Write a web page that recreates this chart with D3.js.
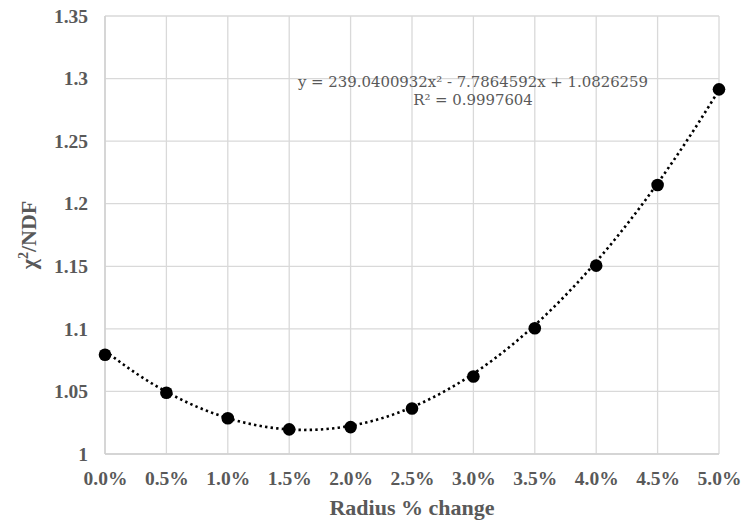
<!DOCTYPE html>
<html>
<head>
<meta charset="utf-8">
<script src="https://cdn.jsdelivr.net/npm/d3@7"></script>
<style>
  html, body { margin: 0; padding: 0; background: #fff; }
  svg { display: block; }
</style>
</head>
<body>
<svg id="chart" width="754" height="522"></svg>
<script>
// Radius change (fraction) and resulting chi-square per degree of freedom
const radiusChange = [0.000, 0.005, 0.010, 0.015, 0.020, 0.025, 0.030, 0.035, 0.040, 0.045, 0.050];
const chi2NDF      = [1.0793, 1.0490, 1.0286, 1.0197, 1.0215, 1.0363, 1.0619, 1.1005, 1.1505, 1.2149, 1.2914];

// Quadratic trendline coefficients: a*x^2 + b*x + c
const trendCoef = [239.0400932, -7.7864592, 1.0826259];
const trendLabels = ["y = 239.0400932x\u00B2 - 7.7864592x + 1.0826259", "R\u00B2 = 0.9997604"];

const xTicks = [0, 0.005, 0.01, 0.015, 0.02, 0.025, 0.03, 0.035, 0.04, 0.045, 0.05];
const yTicks = [1, 1.05, 1.1, 1.15, 1.2, 1.25, 1.3, 1.35];

const svg = d3.select("#chart");
const margin = { left: 105, top: 16, right: 754 - 719, bottom: 522 - 454 };
const W = 754 - margin.left - margin.right;
const H = 522 - margin.top - margin.bottom;

const x = d3.scaleLinear().domain([0, 0.05]).range([0, W]);
const y = d3.scaleLinear().domain([1, 1.35]).range([H, 0]);

const g = svg.append("g").attr("transform", `translate(${margin.left},${margin.top})`);

const gridColor = "#d9d9d9";
const textColor = "#595959";
const serifBold = "'Liberation Serif', 'Times New Roman', serif";

// Grid lines
g.append("g").selectAll("line.h").data(yTicks).join("line")
  .attr("x1", 0).attr("x2", W)
  .attr("y1", d => y(d)).attr("y2", d => y(d))
  .attr("stroke", gridColor).attr("stroke-width", 1.3);
g.append("g").selectAll("line.v").data(xTicks).join("line")
  .attr("x1", d => x(d)).attr("x2", d => x(d))
  .attr("y1", 0).attr("y2", H)
  .attr("stroke", gridColor).attr("stroke-width", 1.3);

// Axes (labels only, lines come from the grid)
const yAxis = g.append("g")
  .call(d3.axisLeft(y).tickValues(yTicks).tickSize(0).tickPadding(17).tickFormat(d3.format("")));
yAxis.select(".domain").remove();
yAxis.selectAll("text")
  .attr("fill", textColor).style("font-family", serifBold)
  .style("font-weight", "bold").style("font-size", "19.5px");

const xAxis = g.append("g").attr("transform", `translate(0,${H})`)
  .call(d3.axisBottom(x).tickValues(xTicks).tickSize(0).tickPadding(17).tickFormat(d3.format(".1%")));
xAxis.select(".domain").remove();
xAxis.selectAll("text")
  .attr("fill", textColor).style("font-family", serifBold)
  .style("font-weight", "bold").style("font-size", "19.5px");

// Axis lines in light grey
g.append("line").attr("x1", 0).attr("x2", W).attr("y1", H).attr("y2", H)
  .attr("stroke", "#d0d0d0").attr("stroke-width", 1.5);
g.append("line").attr("x1", 0).attr("x2", 0).attr("y1", 0).attr("y2", H)
  .attr("stroke", "#d0d0d0").attr("stroke-width", 1.5);

// Dotted quadratic trendline
const fit = v => trendCoef[0] * v * v + trendCoef[1] * v + trendCoef[2];
const trendPts = d3.range(0, 101).map(i => {
  const v = 0.05 * i / 100;
  return [v, fit(v)];
});
g.append("path")
  .datum(trendPts)
  .attr("fill", "none")
  .attr("stroke", "#000")
  .attr("stroke-width", 2.6)
  .attr("stroke-dasharray", "2.4,3.2")
  .attr("d", d3.line().x(d => x(d[0])).y(d => y(d[1])).curve(d3.curveBasis));

// Data markers
g.append("g").selectAll("circle").data(radiusChange).join("circle")
  .attr("cx", d => x(d))
  .attr("cy", (d, i) => y(chi2NDF[i]))
  .attr("r", 6.3)
  .attr("fill", "#000");

// Trendline equation label
const eq = svg.append("text")
  .attr("x", 473).attr("y", 87)
  .attr("text-anchor", "middle")
  .attr("fill", textColor)
  .style("font-family", "'DejaVu Serif', 'Liberation Serif', serif")
  .style("font-size", "14.9px");
eq.append("tspan").attr("x", 473).attr("dy", 0).text(trendLabels[0]);
eq.append("tspan").attr("x", 473).attr("dy", 18).text(trendLabels[1]);

// Axis titles
svg.append("text")
  .attr("x", margin.left + W / 2).attr("y", 515)
  .attr("text-anchor", "middle")
  .attr("fill", textColor)
  .style("font-family", serifBold).style("font-weight", "bold").style("font-size", "22px")
  .text("Radius % change");

const yt = svg.append("text")
  .attr("transform", `translate(36,${margin.top + H / 2}) rotate(-90)`)
  .attr("text-anchor", "middle")
  .attr("fill", textColor)
  .style("font-family", serifBold).style("font-weight", "bold").style("font-size", "22px");
yt.append("tspan").text("\u03C7");
yt.append("tspan").attr("dy", -8).style("font-size", "14px").text("2");
yt.append("tspan").attr("dy", 8).text("/NDF");
</script>
</body>
</html>
